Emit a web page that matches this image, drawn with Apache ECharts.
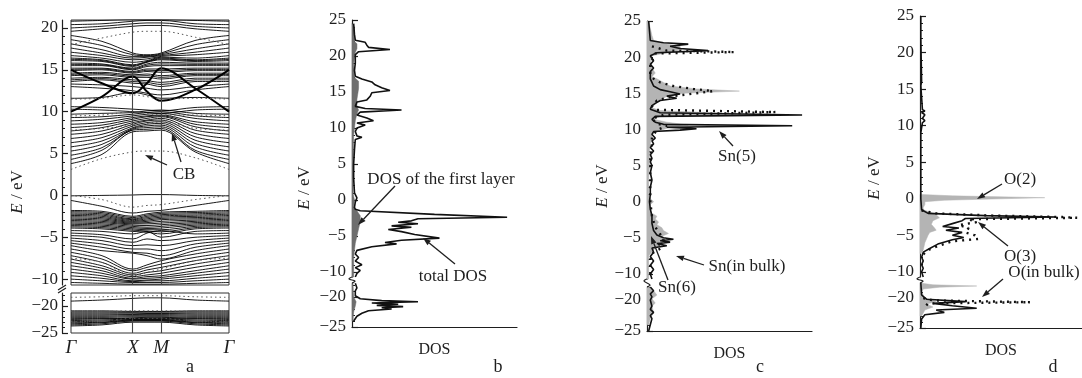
<!DOCTYPE html>
<html>
<head>
<meta charset="utf-8">
<script src="https://cdn.jsdelivr.net/npm/echarts@6/dist/echarts.min.js"></script>
<style>html,body{margin:0;background:#fff}#chart{width:1082px;height:378px}</style>
</head>
<body>
<div id="chart"></div>
<script>
// ---- panel a: band structure, energies (eV) at k = Γ, ½ΓX, X, ½XM, M, ½MΓ, Γ
const kPos = [0, 0.196, 0.392, 0.481, 0.570, 0.785, 1.0];
const kTicks = [0, 0.392, 0.570, 1.0];
const kLabels = ['Γ', 'X', 'M', 'Γ'];

const bandsLow = [
  [-19.1,-18.9,-18.6,-18.5,-18.5,-18.9,-19.1],
  [-20.9,-20.9,-21.0,-21.0,-21.0,-20.9,-20.9],
  [-21.1,-21.1,-21.15,-21.1,-21.1,-21.1,-21.1],
  [-21.3,-21.3,-21.3,-21.3,-21.3,-21.3,-21.3],
  [-21.5,-21.5,-21.5,-21.4,-21.4,-21.5,-21.5],
  [-21.7,-21.7,-21.6,-21.6,-21.6,-21.7,-21.7],
  [-21.9,-21.9,-21.8,-21.8,-21.8,-21.9,-21.9],
  [-22.1,-22.1,-22.0,-22.0,-22.0,-22.1,-22.1],
  [-22.3,-22.3,-22.2,-22.1,-22.1,-22.3,-22.3],
  [-22.5,-22.4,-22.3,-22.3,-22.3,-22.4,-22.5],
  [-22.7,-22.6,-22.4,-22.4,-22.4,-22.6,-22.7],
  [-22.9,-22.8,-22.5,-22.5,-22.5,-22.8,-22.9],
  [-23.1,-23.0,-22.6,-22.6,-22.6,-23.0,-23.1],
  [-23.3,-23.1,-22.7,-22.7,-22.7,-23.1,-23.3],
  [-23.5,-23.3,-22.8,-22.8,-22.8,-23.3,-23.5],
  [-23.7,-23.5,-23.0,-23.0,-23.0,-23.5,-23.7]
];
const dottedLow = [
  [-18.4,-18.3,-18.1,-18.1,-18.1,-18.3,-18.4],
  [-21.0,-21.0,-20.9,-20.9,-20.9,-21.0,-21.0],
  [-22.9,-22.8,-22.3,-22.3,-22.3,-22.8,-22.9]
];
const bandsValence = [
  [-0.05,0.0,0.05,0.1,0.1,0.0,-0.05],
  [-0.6,-1.3,-2.1,-1.9,-1.8,-1.2,-0.6],
  [-1.8,-1.9,-2.5,-2.2,-2.0,-1.9,-1.8],
  [-1.95,-2.05,-2.65,-2.35,-2.15,-2.05,-1.95],
  [-2.1,-2.2,-2.8,-2.5,-2.3,-2.2,-2.1],
  [-2.25,-2.35,-2.9,-2.65,-2.45,-2.35,-2.25],
  [-2.4,-2.5,-3.0,-2.8,-2.6,-2.5,-2.4],
  [-2.55,-2.65,-3.1,-2.95,-2.75,-2.65,-2.55],
  [-2.7,-2.8,-3.2,-3.1,-2.9,-2.8,-2.7],
  [-2.85,-2.95,-3.3,-3.25,-3.1,-2.95,-2.85],
  [-3.0,-3.1,-3.4,-3.4,-3.3,-3.1,-3.0],
  [-3.15,-3.25,-3.55,-3.6,-3.5,-3.25,-3.15],
  [-3.3,-3.4,-3.7,-3.8,-3.7,-3.4,-3.3],
  [-3.45,-3.55,-3.85,-3.95,-3.9,-3.55,-3.45],
  [-3.6,-3.7,-4.0,-4.1,-4.1,-3.7,-3.6],
  [-3.75,-3.85,-4.15,-4.25,-4.35,-3.85,-3.75],
  [-3.9,-4.0,-4.3,-4.4,-4.6,-4.0,-3.9],
  [-4.2,-4.3,-4.6,-4.3,-5.0,-4.3,-4.2],
  [-4.5,-4.7,-5.2,-4.5,-4.2,-4.6,-4.5],
  [-4.8,-5.0,-5.6,-5.2,-5.4,-5.0,-4.8],
  [-5.1,-5.4,-6.0,-5.9,-6.0,-5.4,-5.1],
  [-5.4,-5.8,-6.4,-6.4,-6.6,-5.8,-5.4],
  [-5.7,-6.2,-6.8,-6.9,-7.2,-6.2,-5.7],
  [-6.0,-6.6,-6.9,-7.2,-7.6,-6.6,-6.0],
  [-6.4,-7.2,-8.8,-8.3,-7.8,-7.0,-6.4],
  [-6.8,-7.6,-9.0,-8.6,-8.2,-7.4,-6.8],
  [-7.2,-8.0,-9.3,-8.9,-8.6,-7.8,-7.2],
  [-7.6,-8.4,-9.5,-9.2,-9.0,-8.2,-7.6],
  [-8.0,-8.7,-9.7,-9.5,-9.3,-8.6,-8.0],
  [-8.4,-9.0,-9.9,-9.7,-9.6,-9.0,-8.4],
  [-8.8,-9.3,-10.0,-9.9,-9.8,-9.3,-8.8],
  [-9.2,-9.6,-10.2,-10.1,-10.0,-9.6,-9.2],
  [-9.6,-9.9,-10.3,-10.2,-10.2,-9.9,-9.6],
  [-10.0,-10.2,-10.4,-10.4,-10.4,-10.2,-10.0],
  [-10.4,-10.5,-10.6,-10.6,-10.6,-10.5,-10.4]
];
const bandsCond = [
  [3.8,4.9,7.6,7.7,7.8,5.2,3.8],
  [4.3,5.4,7.8,7.9,8.0,5.4,4.3],
  [4.8,5.7,7.9,8.1,8.2,5.8,4.8],
  [5.3,6.1,8.0,8.3,8.4,6.2,5.3],
  [5.8,6.5,8.1,8.5,8.6,6.6,5.8],
  [6.3,6.9,8.3,8.7,8.8,7.0,6.3],
  [6.8,7.3,8.5,8.9,9.0,7.4,6.8],
  [7.3,7.7,8.7,9.0,9.2,7.8,7.3],
  [7.7,8.1,8.9,9.2,9.4,8.2,7.7],
  [8.1,8.4,9.1,9.4,9.5,8.5,8.1],
  [8.5,8.7,9.3,9.5,9.6,8.8,8.5],
  [8.9,9.1,9.5,9.7,9.8,9.2,8.9],
  [9.3,9.4,9.7,9.9,10.0,9.5,9.3],
  [9.7,9.8,9.9,10.1,10.2,9.8,9.7],
  [10.3,10.2,10.0,9.9,9.8,10.2,10.3],
  [10.6,10.5,10.3,10.2,10.1,10.5,10.6],
  [11.6,11.7,12.3,12.0,11.6,11.7,11.6],
  [13.0,12.8,12.5,12.2,12.0,12.6,13.0],
  [13.3,13.2,13.0,12.8,12.6,13.0,13.3],
  [13.6,13.8,13.4,13.3,13.0,13.6,13.6],
  [13.8,13.95,13.6,13.5,13.25,13.8,13.8],
  [14.0,14.1,13.8,13.7,13.5,14.0,14.0],
  [14.3,14.4,14.1,14.1,13.9,14.3,14.3],
  [14.45,14.55,14.25,14.3,14.1,14.45,14.45],
  [14.6,14.7,14.4,14.5,14.3,14.6,14.6],
  [14.9,15.0,14.6,14.8,14.7,14.9,14.9],
  [15.05,15.1,14.7,14.95,14.9,15.05,15.05],
  [15.2,15.2,14.8,15.1,15.1,15.2,15.2],
  [15.5,15.5,15.0,15.4,15.5,15.5,15.5],
  [15.65,15.6,15.1,15.55,15.7,15.65,15.65],
  [15.8,15.7,15.2,15.7,15.9,15.8,15.8],
  [16.1,16.0,15.4,15.9,16.2,16.0,16.1],
  [16.25,16.1,15.5,15.95,16.3,16.1,16.25],
  [16.4,16.2,15.6,16.0,16.4,16.2,16.4],
  [16.7,16.4,15.9,16.1,16.5,16.4,16.7],
  [17.1,16.7,16.2,16.3,16.6,16.8,17.1],
  [17.6,17.0,16.4,16.5,16.7,17.1,17.6],
  [18.1,17.4,16.6,16.6,16.8,17.5,18.1],
  [18.6,17.9,16.8,16.7,16.9,18.0,18.6],
  [19.1,18.4,17.0,16.8,17.0,18.5,19.1],
  [19.6,19.9,20.2,20.3,20.3,19.9,19.6],
  [20.0,20.2,20.5,20.6,20.6,20.2,20.0],
  [20.4,20.5,20.8,20.9,20.9,20.5,20.4],
  [20.8,20.9,21.0,21.0,21.0,20.9,20.8]
];
const bandsThick = [
  [10.0,11.8,14.2,12.4,11.3,12.6,15.0],
  [15.0,13.4,12.2,13.4,15.2,12.8,10.0]
];
const dottedUp = [
  [0.0,-0.5,-1.4,-1.2,-1.1,-0.5,0.0],
  [-2.2,-2.4,-3.0,-2.6,-2.4,-2.4,-2.2],
  [-7.5,-8.0,-9.6,-9.2,-8.8,-7.8,-7.5],
  [3.1,4.4,5.2,5.3,5.3,4.5,3.1],
  [7.8,8.0,8.4,8.6,8.8,8.0,7.8],
  [9.5,9.6,10.0,9.8,9.6,9.6,9.5],
  [11.5,11.6,12.0,11.8,11.5,11.6,11.5],
  [18.0,18.8,19.5,19.6,19.6,18.9,18.0]
];

// ---- panels b-d: DOS curves as [E (eV), DOS (arb., 0..100)]
const bTotalUp = [[24.5,1],[23,1.5],[22.2,2],[21.9,8],[21.5,9],[21.2,10],[20.9,23],[20.6,4],[20.2,2],[19,2],[18,1.5],[17.2,2],[16.8,6],[16.4,12],[16.0,14],[15.6,18],[15.4,17],[15.2,23],[14.9,12],[14.4,11],[13.9,9],[13.6,3],[13.0,2],[12.7,8],[12.5,30],[12.2,5],[11.8,3],[11.4,9],[11.0,13],[10.7,3],[10.4,8],[10.0,3],[9.5,2],[8.9,3],[8.7,6],[8.4,2],[7,1.5],[5,1],[3,1],[1,1.5],[0.3,3],[0.1,4],[-0.3,2],[-1.0,1.5],[-1.3,2],[-1.5,5],[-2.0,50],[-2.4,94],[-2.6,40],[-2.9,36],[-3.1,28],[-3.3,40],[-3.6,24],[-3.8,36],[-4.1,22],[-4.4,30],[-4.8,38],[-5.3,53],[-5.6,30],[-5.9,20],[-6.1,27],[-6.5,12],[-7.0,3],[-7.5,2],[-8,4],[-8.5,2],[-9,6],[-9.4,2],[-9.8,5],[-10.2,3],[-10.7,2]];
const bTotalLow = [[-17.7,2],[-18.5,3],[-19,2],[-19.8,2],[-20.3,5],[-20.6,18],[-20.8,40],[-21.0,12],[-21.2,28],[-21.4,15],[-21.6,31],[-21.8,18],[-22.0,24],[-22.3,10],[-22.7,6],[-23.2,3],[-24,1]];
const bLayerUp = [[24.5,0],[24,1.5],[22,1.5],[21.7,3],[21.0,3],[20.5,2],[19,1],[17,1.5],[16.5,4],[15.5,4],[14,3],[13,3],[12.5,4],[12,3],[11,2],[9,1],[1,0.5],[0,1.5],[-1,1],[-1.5,3],[-2.2,5],[-3,5],[-4,4],[-5,3],[-6,2],[-7,1.5],[-8,1],[-10.7,1]];
const bLayerLow = [[-17.7,0.5],[-20,1],[-20.8,2.5],[-21.5,2],[-22.5,1],[-24,0.5]];

const cSn5Up = [[25,1],[22.3,2],[22.0,10],[21.8,25],[21.5,14],[21.2,20],[20.9,37],[20.6,6],[20.2,2],[19.5,4],[19.0,2],[18.5,4],[18.0,2],[17.0,2],[16.5,3],[16.0,4],[15.5,8],[15.2,14],[14.9,20],[14.6,12],[14.3,18],[14.0,8],[13.6,5],[13.3,3],[12.8,2],[12.3,8],[12.0,94],[11.8,5],[11.4,3],[11.0,5],[10.7,10],[10.5,88],[10.3,12],[10.1,30],[9.9,20],[9.7,4],[9.3,3],[8.8,5],[8.4,3],[8.0,4],[7.5,2],[7.0,4],[6.5,2],[6.0,3],[5.5,2],[5,3],[4,2],[3,3],[2,2],[1,2],[0,1.5],[-1,2],[-2,3],[-3,3],[-4,4],[-4.6,6],[-5.0,10],[-5.2,16],[-5.4,8],[-5.6,14],[-5.8,6],[-6.1,12],[-6.4,3],[-7,4],[-7.6,2],[-8.2,4],[-8.8,2],[-9.4,4],[-10,2],[-10.7,3]];
const cSn5Low = [[-17.9,2],[-18.5,4],[-19,2],[-19.5,3],[-20,2],[-21,3],[-21.5,2],[-22,4],[-22.5,2],[-23,3],[-24,2],[-25,1]];
const cBulkUp = [[21.5,3],[20.9,12],[20.8,37],[20.7,53],[20.5,5],[19,2],[17.5,2],[17.0,4],[16.5,8],[16.0,16],[15.6,28],[15.3,40],[15.0,30],[14.6,16],[14.0,6],[13.2,3],[12.7,6],[12.4,78],[12.0,10],[11.5,3],[10.8,6],[10.5,12],[9.9,6],[9.0,3],[8.0,3],[6,2],[4,2],[2,2],[0,2],[-2,3],[-3.5,5],[-4.5,8],[-5.3,10],[-5.8,7],[-6.4,9],[-7.0,4],[-8,2],[-10.7,2]];
const cSn6Up = [[25,1],[24,2],[23,3],[22.3,4],[21.9,10],[21.5,20],[21.0,21],[20.6,12],[20.2,3],[19.5,2],[18.5,3],[17.8,5],[17.3,3],[17.0,6],[16.5,10],[16.0,14],[15.6,30],[15.3,56],[15.0,22],[14.6,12],[14.0,8],[13.5,5],[13.0,3],[12.6,8],[12.3,40],[12.1,73],[11.8,8],[11.4,4],[11.0,12],[10.6,25],[10.3,14],[10.0,10],[9.6,4],[9.0,3],[8,2],[7,1.5],[5,1.5],[3,1],[1,1],[0.4,2],[0,4],[-0.4,2],[-1,1.5],[-1.6,3],[-2.0,6],[-2.4,5],[-2.8,7],[-3.2,6],[-3.6,9],[-4.0,10],[-4.4,13],[-4.8,9],[-5.2,11],[-5.6,7],[-6.0,9],[-6.4,5],[-7,3],[-7.5,1],[-9,1],[-10.7,1]];
const cSn6Low = [[-17.9,1],[-18.5,4],[-19.2,6],[-19.8,3],[-20.5,5],[-21,3],[-22,4],[-23,2],[-24,1]];

const dO3Up = [[25,0.5],[22,0.5],[16,1],[15.5,0.5],[12.2,1.5],[12.0,3],[11.8,1],[11.5,3],[11.0,1.5],[10.7,3],[10.4,1.5],[9,0.5],[0,0.5],[-1.5,1],[-2.0,5],[-2.3,40],[-2.5,84],[-2.7,28],[-3.0,26],[-3.4,20],[-3.8,14],[-4.0,24],[-4.3,16],[-4.6,26],[-5.0,20],[-5.3,27],[-5.6,20],[-6.2,11],[-6.8,6],[-7.3,2],[-8,1],[-8.5,2],[-9,1],[-9.5,2],[-10,1],[-10.7,2]];
const dO3Low = [[-17.5,0.5],[-19.5,1],[-20.2,4],[-20.6,28],[-20.9,8],[-21.3,20],[-21.7,35],[-22.0,10],[-22.4,15],[-22.8,3],[-23.5,1],[-25,0.5]];
const dBulkUp = [[-1.6,1],[-2.0,10],[-2.3,45],[-2.5,88],[-2.6,97],[-2.8,30],[-3.2,35],[-3.6,24],[-4.0,30],[-4.6,28],[-5.0,34],[-5.5,36],[-5.8,20],[-6.4,12],[-7,5],[-7.6,2]];
const dBulkLow = [[-20.0,2],[-20.4,8],[-20.7,68],[-20.9,5],[-21.5,3]];
const dO2Up = [[0.6,0],[0.4,20],[0.15,77],[0.0,50],[-0.2,15],[-0.4,3],[-0.8,3],[-1.2,2],[-1.5,2],[-1.8,6],[-2.2,10],[-2.6,12],[-3.0,8],[-3.5,7],[-4.0,9],[-4.3,10],[-4.6,6],[-5,5],[-5.5,4],[-6,3],[-7,2],[-7.5,0.5]];
const dO2Low = [[-17.5,0],[-17.8,8],[-18.0,35],[-18.2,12],[-18.5,2],[-19,1],[-20,3],[-20.6,10],[-21.0,4],[-21.5,8],[-22,3],[-23,1]];

const ticksA = [-10, -5, 0, 5, 10, 15, 20];
const ticksDos = [-10, -5, 0, 5, 10, 15, 20, 25];
const ticksLow = [-20, -25];

// ---- layout
const FONT = "'Liberation Serif','DejaVu Serif',serif";
const INK = '#1e1e1e';
const grids = [
  {left: 71, top: 20, width: 158, height: 265},
  {left: 71, top: 293, width: 158, height: 40},
  {left: 352, top: 20, width: 165, height: 257},
  {left: 352, top: 283, width: 165, height: 44},
  {left: 647, top: 21, width: 165, height: 258},
  {left: 647, top: 287, width: 165, height: 44},
  {left: 920, top: 16, width: 162, height: 261},
  {left: 920, top: 283, width: 162, height: 45}
];
const yRanges = [[-10.7, 20.95], [-25, -17.6], [-10.7, 25], [-25, -17.67], [-10.7, 25], [-25, -17.9], [-10.7, 25], [-25, -17.5]];
const yMajors = [ticksA, ticksLow, ticksDos, ticksLow, ticksDos, ticksLow, ticksDos, ticksLow];

const minus = v => String(v).replace('-', '\u2212');
const ints = (a, b) => { const r = []; for (let v = Math.ceil(a); v <= Math.floor(b); v++) r.push(v); return r; };

const yAxis = [];
grids.forEach((g, i) => {
  const [min, max] = yRanges[i];
  const offset = i < 2 ? 9 : 0;
  yAxis.push({
    gridIndex: i, type: 'value', min, max, position: 'left', offset,
    axisLine: {show: true, onZero: false, lineStyle: {color: INK, width: 1.2}},
    axisTick: {show: true, inside: true, length: 6, customValues: yMajors[i], lineStyle: {color: INK, width: 1.2}},
    axisLabel: {show: true, customValues: yMajors[i], formatter: minus, fontFamily: FONT, fontSize: 17, color: INK, margin: i < 2 ? 4 : 6},
    splitLine: {show: false}
  });
  yAxis.push({
    gridIndex: i, type: 'value', min, max, position: 'left', offset,
    axisLine: {show: false, onZero: false},
    axisTick: {show: true, inside: true, length: 3, customValues: ints(min, max), lineStyle: {color: INK, width: 1}},
    axisLabel: {show: false}, splitLine: {show: false}
  });
});

const xAxis = grids.map((g, i) => {
  if (i === 0) return {gridIndex: 0, type: 'value', min: 0, max: 1, show: false};
  if (i === 1) return {
    gridIndex: 1, type: 'value', min: 0, max: 1,
    axisLine: {show: false}, axisTick: {show: false}, splitLine: {show: false},
    axisLabel: {
      customValues: kTicks, fontStyle: 'italic', fontFamily: FONT, fontSize: 19, color: INK, margin: 5,
      formatter: v => {
        let best = 0;
        kTicks.forEach((t, j) => { if (Math.abs(t - v) < Math.abs(kTicks[best] - v)) best = j; });
        return kLabels[best];
      }
    }
  };
  if (i % 2 === 0) return {gridIndex: i, type: 'value', min: 0, max: 100, show: false};
  return {
    gridIndex: i, type: 'value', min: 0, max: 100,
    axisLine: {show: true, onZero: false, lineStyle: {color: INK, width: 1.2}},
    axisTick: {show: false}, axisLabel: {show: false}, splitLine: {show: false},
    name: 'DOS', nameLocation: 'middle', nameGap: 15,
    nameTextStyle: {fontFamily: FONT, fontSize: 16, color: INK}
  };
});

// ---- series
const series = [];
function band(vals, g, style) {
  return {
    type: 'line', xAxisIndex: g, yAxisIndex: 2 * g, smooth: 0.35, showSymbol: false, silent: true,
    data: kPos.map((k, i) => [k, vals[i]]), lineStyle: style
  };
}
const thin = {color: '#000', width: 0.9};
const dots = {color: '#555', width: 1, type: [1.5, 3]};
bandsLow.forEach(b => series.push(band(b, 1, thin)));
dottedLow.forEach(b => series.push(band(b, 1, dots)));
bandsValence.forEach(b => series.push(band(b, 0, thin)));
bandsCond.forEach(b => series.push(band(b, 0, thin)));
bandsThick.forEach(b => series.push(band(b, 0, {color: '#000', width: 2})));
dottedUp.forEach(b => series.push(band(b, 0, dots)));
[0, 1].forEach(g => series.push({
  type: 'line', xAxisIndex: g, yAxisIndex: 2 * g, data: [], silent: true,
  markLine: {
    symbol: 'none', silent: true, label: {show: false},
    lineStyle: {color: '#444', width: 1.1, type: 'solid'},
    data: [{xAxis: kTicks[1]}, {xAxis: kTicks[2]}]
  }
}));

function dosLine(pts, g, style) {
  return {
    type: 'line', xAxisIndex: g, yAxisIndex: 2 * g, showSymbol: false, silent: true, z: 3,
    data: pts.map(p => [p[1], p[0]]), lineStyle: style
  };
}
function dosFill(pts, g, color) {
  return {
    type: 'custom', xAxisIndex: g, yAxisIndex: 2 * g, silent: true, z: 1,
    data: [[0, pts[0][0]]],
    renderItem: (params, api) => {
      const poly = [[0, pts[0][0]]].concat(pts.map(p => [p[1], p[0]]), [[0, pts[pts.length - 1][0]]]);
      return {type: 'polygon', shape: {points: poly.map(p => api.coord(p))}, style: {fill: color, stroke: color, lineWidth: 0.5}};
    }
  };
}
const solid = {color: '#111', width: 1.6};
const bulk = {color: '#111', width: 2.4, type: [2, 5]};
const darkGray = '#6e6e6e', lightGray = '#b4b4b4';

series.push(dosFill(bLayerUp, 2, darkGray), dosFill(bLayerLow, 3, darkGray));
series.push(dosLine(bTotalUp, 2, solid), dosLine(bTotalLow, 3, solid));

series.push(dosFill(cSn6Up, 4, lightGray), dosFill(cSn6Low, 5, lightGray));
series.push(dosLine(cSn5Up, 4, solid), dosLine(cSn5Low, 5, solid));
series.push(dosLine(cBulkUp, 4, bulk));

series.push(dosFill(dO2Up, 6, lightGray), dosFill(dO2Low, 7, lightGray));
series.push(dosLine(dO3Up, 6, solid), dosLine(dO3Low, 7, solid));
series.push(dosLine(dBulkUp, 6, bulk), dosLine(dBulkLow, 7, bulk));

// ---- annotations
const graphic = [];
function text(t, x, y, size, extra) {
  graphic.push(Object.assign({
    type: 'text', x, y, z: 50,
    style: {text: t, fill: INK, font: `${size || 17}px ${FONT}`, align: 'center', verticalAlign: 'middle'}
  }, extra || {}));
}
function arrow(x1, y1, x2, y2) {
  const a = Math.atan2(y2 - y1, x2 - x1), L = 8, W = 2.8;
  const bx = x2 - L * Math.cos(a), by = y2 - L * Math.sin(a);
  graphic.push({type: 'line', z: 50, shape: {x1, y1, x2: bx, y2: by}, style: {stroke: INK, lineWidth: 1.3}});
  graphic.push({type: 'polygon', z: 50, shape: {points: [[x2, y2], [bx - W * Math.sin(a), by + W * Math.cos(a)], [bx + W * Math.sin(a), by - W * Math.cos(a)]]}, style: {fill: INK}});
}
function yName(x, y) {
  graphic.push({
    type: 'text', x, y, rotation: Math.PI / 2, z: 50,
    style: {
      text: '{i|E} / eV', fill: INK, font: `17px ${FONT}`, align: 'center', verticalAlign: 'middle',
      rich: {i: {fontStyle: 'italic', fontFamily: FONT, fontSize: 17, fill: INK}}
    }
  });
}
function brk(x, y1, y2, slash) {
  if (slash) {
    graphic.push({type: 'line', z: 50, shape: {x1: x - 4, y1: y1 + 4, x2: x + 4, y2: y1 - 1}, style: {stroke: INK, lineWidth: 1.2}});
    graphic.push({type: 'line', z: 50, shape: {x1: x - 4, y1: y2 + 1, x2: x + 4, y2: y2 - 4}, style: {stroke: INK, lineWidth: 1.2}});
  } else {
    graphic.push({type: 'polyline', z: 50, shape: {points: [[x, y1], [x - 3, y1 + 2], [x + 3, y2 - 2], [x, y2]], smooth: 0.4}, style: {stroke: INK, lineWidth: 1.2, fill: null}});
  }
}
yName(18, 192); yName(305, 188); yName(603, 186); yName(875, 178);
text('a', 190, 367, 18); text('b', 498, 367, 18); text('c', 760, 367, 18); text('d', 1053, 367, 18);
brk(62, 286, 292, true); brk(352, 277, 283); brk(647, 279, 287); brk(920, 277, 283);

text('CB', 184, 175);
arrow(181, 162, 172, 133); arrow(167, 165, 145, 155);
text('DOS of the first layer', 441, 180);
arrow(395, 186, 358, 225);
text('total DOS', 453, 277);
arrow(455, 264, 423, 238);
text('Sn(5)', 737, 157);
arrow(733, 146, 719, 131);
text('Sn(in bulk)', 747, 267);
arrow(704, 265, 676, 256);
text('Sn(6)', 677, 288);
arrow(668, 280, 651, 236);
text('O(2)', 1020, 180);
arrow(1002, 184, 977, 199);
text('O(3)', 1020, 257);
arrow(1008, 246, 978, 222);
text('O(in bulk)', 1044, 273);
arrow(1003, 279, 982, 297);

const chart = echarts.init(document.getElementById('chart'), null, {renderer: 'canvas'});
chart.setOption({
  backgroundColor: '#fff',
  animation: false,
  grid: grids.map((g, i) => Object.assign({}, g, i < 2 ? {show: true, borderColor: '#333', borderWidth: 1} : {show: false})),
  xAxis, yAxis, series, graphic
});
</script>
</body>
</html>
